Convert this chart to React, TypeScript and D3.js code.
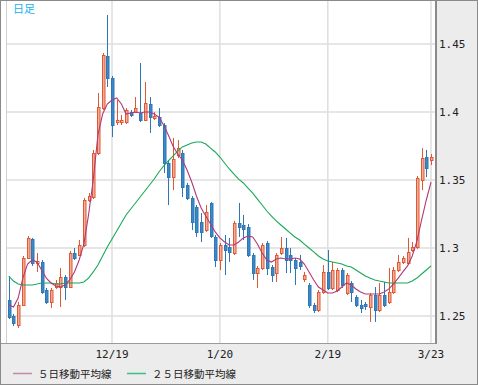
import React from 'react';
import * as d3 from 'd3';

// daily candles, oldest first
const open = [
  1.2618, 1.25, 1.2434, 1.2581, 1.2926, 1.3066, 1.289, 1.2897, 1.2691, 1.2603,
  1.2713, 1.2713, 1.2787, 1.2713, 1.2963, 1.2949, 1.3022, 1.3353, 1.3375, 1.3699,
  1.4029, 1.4412, 1.425, 1.3926, 1.3926, 1.3926, 1.4, 1.4, 1.3993, 1.3941,
  1.4059, 1.3956, 1.3963, 1.3904, 1.3625, 1.3522, 1.3684, 1.3699, 1.3463, 1.3368,
  1.3301, 1.3191, 1.3132, 1.3331, 1.3081, 1.2912, 1.3022, 1.3007, 1.2963, 1.3184,
  1.3169, 1.3154, 1.2949, 1.2816, 1.2853, 1.3037, 1.286, 1.2816, 1.2963, 1.3,
  1.2949, 1.2912, 1.2897, 1.2772, 1.2728, 1.2581, 1.2544, 1.2676, 1.2824, 1.2706,
  1.2691, 1.2838, 1.2669, 1.2743, 1.264, 1.2581, 1.2588, 1.2566, 1.2654, 1.2544,
  1.2654, 1.2603, 1.2676, 1.2838, 1.2897, 1.289, 1.2985, 1.3007, 1.35, 1.3669,
  1.3647,
];
const high = [
  1.2794, 1.2515, 1.2603, 1.2941, 1.3088, 1.3074, 1.2963, 1.2912, 1.2706, 1.2706,
  1.2765, 1.2853, 1.2801, 1.2978, 1.3, 1.3059, 1.3368, 1.3404, 1.3721, 1.414,
  1.4434, 1.4713, 1.4265, 1.4088, 1.3978, 1.4029, 1.4015, 1.411, 1.436, 1.4221,
  1.411, 1.4, 1.4029, 1.3919, 1.3647, 1.3809, 1.3794, 1.3721, 1.3478, 1.3382,
  1.3316, 1.3257, 1.3316, 1.3338, 1.3096, 1.3037, 1.3096, 1.3074, 1.3199, 1.3331,
  1.3243, 1.3176, 1.2963, 1.2868, 1.3037, 1.3051, 1.2875, 1.2963, 1.3081, 1.3074,
  1.3, 1.2926, 1.2949, 1.2824, 1.2743, 1.2596, 1.2691, 1.2875, 1.2985, 1.2897,
  1.2853, 1.2853, 1.2816, 1.2757, 1.2654, 1.2618, 1.2603, 1.2669, 1.2713, 1.2743,
  1.275, 1.2853, 1.286, 1.2949, 1.2941, 1.3074, 1.3044, 1.3529, 1.3735, 1.3721,
  1.3691,
];
const low = [
  1.2478, 1.2426, 1.2412, 1.2574, 1.2919, 1.2868, 1.2824, 1.2662, 1.2588, 1.2559,
  1.2699, 1.2566, 1.2618, 1.2706, 1.2912, 1.2941, 1.3007, 1.3338, 1.336, 1.3684,
  1.4015, 1.4184, 1.3816, 1.3904, 1.3904, 1.3912, 1.3963, 1.3993, 1.3926, 1.3934,
  1.3846, 1.3941, 1.389, 1.3551, 1.3316, 1.3426, 1.3662, 1.3375, 1.3353, 1.3132,
  1.3081, 1.3044, 1.3118, 1.3074, 1.286, 1.2838, 1.2801, 1.2897, 1.2949, 1.3081,
  1.3059, 1.2934, 1.2765, 1.2706, 1.2838, 1.2801, 1.275, 1.275, 1.2949, 1.2816,
  1.2816, 1.2728, 1.2838, 1.275, 1.2559, 1.2522, 1.2529, 1.2662, 1.2691, 1.2691,
  1.2676, 1.2706, 1.2654, 1.2603, 1.2566, 1.2522, 1.2544, 1.2456, 1.2456, 1.2529,
  1.2566, 1.2588, 1.2662, 1.2824, 1.2882, 1.2875, 1.2971, 1.2993, 1.3426, 1.3522,
  1.361,
];
const close = [
  1.2493, 1.2449, 1.2581, 1.2926, 1.3074, 1.289, 1.2904, 1.2676, 1.2603, 1.2691,
  1.2743, 1.2787, 1.2713, 1.2963, 1.2926, 1.3022, 1.3353, 1.3382, 1.3699, 1.4037,
  1.4419, 1.425, 1.3904, 1.3941, 1.3941, 1.4015, 1.3978, 1.4029, 1.3941, 1.4066,
  1.3963, 1.3971, 1.3904, 1.3625, 1.3522, 1.3654, 1.3735, 1.3449, 1.3368, 1.3191,
  1.3118, 1.3118, 1.3265, 1.3088, 1.2912, 1.3022, 1.2985, 1.2971, 1.3184, 1.3154,
  1.314, 1.2949, 1.2816, 1.2853, 1.3022, 1.2853, 1.2801, 1.2949, 1.3, 1.2912,
  1.2912, 1.2853, 1.2868, 1.2801, 1.2581, 1.2544, 1.2676, 1.2824, 1.2706, 1.2838,
  1.2838, 1.2728, 1.2801, 1.2676, 1.2581, 1.2559, 1.2574, 1.2654, 1.2544, 1.2654,
  1.2581, 1.2676, 1.2838, 1.2897, 1.2926, 1.2971, 1.3007, 1.3515, 1.3662, 1.3588,
  1.3669,
];

const ma5 = [
  1.2581, 1.2566, 1.2632, 1.2779, 1.2882, 1.2912, 1.2897, 1.2838, 1.2779, 1.2743,
  1.2721, 1.2713, 1.2728, 1.2765, 1.2824, 1.2912, 1.3029, 1.3243, 1.35, 1.3831,
  1.3985, 1.4059, 1.4088, 1.4103, 1.4059, 1.3985, 1.3993, 1.4, 1.3993, 1.4,
  1.4, 1.3985, 1.3963, 1.3904, 1.3831, 1.375, 1.3691, 1.3647, 1.3574, 1.3485,
  1.3382, 1.3294, 1.3235, 1.3176, 1.3118, 1.3074, 1.3044, 1.3022, 1.3022, 1.3044,
  1.3074, 1.3088, 1.3081, 1.3029, 1.2963, 1.2912, 1.2897, 1.2919, 1.2926, 1.2919,
  1.2919, 1.2926, 1.2919, 1.2882, 1.2824, 1.2765, 1.2713, 1.2691, 1.2669, 1.2669,
  1.2684, 1.2713, 1.2743, 1.2728, 1.2699, 1.2676, 1.2662, 1.2662, 1.2662, 1.2662,
  1.2676, 1.2699, 1.2735, 1.2779, 1.2824, 1.2868, 1.2941, 1.3051, 1.3206, 1.3353,
  1.3485,
];
const ma25 = [
  1.2794, 1.2757, 1.2735, 1.2728, 1.2728, 1.2728, 1.2735, 1.2743, 1.2743, 1.2743,
  1.2735, 1.2735, 1.2743, 1.2743, 1.2743, 1.2743, 1.275, 1.2779, 1.2824, 1.2875,
  1.2941, 1.3007, 1.3066, 1.3125, 1.3184, 1.3243, 1.3287, 1.3331, 1.3375, 1.3419,
  1.3463, 1.3507, 1.3559, 1.3603, 1.364, 1.3676, 1.3713, 1.3743, 1.3757, 1.3772,
  1.3779, 1.3779, 1.3765, 1.3735, 1.3706, 1.3669, 1.3625, 1.3581, 1.3544, 1.3507,
  1.3478, 1.3441, 1.3404, 1.336, 1.3316, 1.3272, 1.3235, 1.3199, 1.3169, 1.314,
  1.311, 1.3081, 1.3059, 1.3029, 1.3, 1.2971, 1.2941, 1.2919, 1.2904, 1.2897,
  1.289, 1.2882, 1.2868, 1.286, 1.2838, 1.2816, 1.2794, 1.2779, 1.2765, 1.2757,
  1.275, 1.2743, 1.2743, 1.2743, 1.2743, 1.2743, 1.2757, 1.2779, 1.2809, 1.2838,
  1.2868,
];

const yTicks = [1.25, 1.3, 1.35, 1.4, 1.45];
const xTickIdx = [22, 45, 68, 90];
const xTickLabels = ['12/19', '1/20', '2/19', '3/23'];
const legendNames = ['５日移動平均線', '２５日移動平均線'];

const W = 478;
const H = 385;
const plot = { left: 6, right: 436, top: 1, bottom: 343 };

const upFill = '#f3ad9c';
const upStroke = '#e0582f';
const downFill = '#3b88c8';
const downStroke = '#2f76b6';
const ma5Color = '#b03a78';
const ma25Color = '#17a858';

export default function App() {
  const x = d3.scaleLinear().domain([xTickIdx[0], xTickIdx[3]]).range([112, 431]);
  const y = d3.scaleLinear().domain([1.25, 1.45]).range([316, 44]);

  const line = d3
    .line<number>()
    .x((_, i) => x(i))
    .y((d) => y(d));

  const mono = '"DejaVu Sans Mono", monospace';
  const jp = '"Noto Sans CJK JP", sans-serif';

  return (
    <svg
      width={W}
      height={H}
      style={{ position: 'absolute', left: 0, top: 0, display: 'block' }}
    >
      <defs>
        <clipPath id="plotClip">
          <rect x={plot.left} y={plot.top} width={plot.right - plot.left} height={plot.bottom - plot.top} />
        </clipPath>
      </defs>

      {/* panels */}
      <rect x={0} y={0} width={W} height={H} fill="#ececec" />
      <rect x={1} y={1} width={plot.right - 1} height={plot.bottom - 1} fill="#fff" />

      {/* grid */}
      {yTicks.map((t) => (
        <line key={t} x1={plot.left} x2={plot.right} y1={y(t)} y2={y(t)} stroke="#dedede" strokeWidth={1.5} />
      ))}
      {xTickIdx.map((t) => (
        <line key={t} x1={x(t)} x2={x(t)} y1={plot.top} y2={plot.bottom} stroke="#dedede" strokeWidth={1.5} />
      ))}
      <line x1={plot.left + 0.5} x2={plot.left + 0.5} y1={plot.top} y2={plot.bottom} stroke="#d0d0d0" />

      <text x={13} y={13} fontFamily={jp} fontSize={11} fill="#14b2ee">
        日足
      </text>

      {/* candles */}
      <g clipPath="url(#plotClip)">
        {open.map((o, i) => {
          const c = close[i];
          const up = c >= o;
          const cx = Math.round(x(i));
          const top = Math.round(y(Math.max(o, c)));
          const bot = Math.round(y(Math.min(o, c)));
          return (
            <g key={i}>
              <line
                x1={cx + 0.5}
                x2={cx + 0.5}
                y1={y(high[i])}
                y2={y(low[i])}
                stroke={up ? upStroke : downStroke}
                strokeWidth={1}
              />
              <rect
                x={cx - 0.5}
                y={top + 0.5}
                width={2.5}
                height={Math.max(bot - top, 1)}
                fill={up ? upFill : downFill}
                stroke={up ? upStroke : downStroke}
                strokeWidth={1}
              />
            </g>
          );
        })}
        <path d={line(ma25) ?? ''} fill="none" stroke={ma25Color} strokeWidth={1.1} />
        <path d={line(ma5) ?? ''} fill="none" stroke={ma5Color} strokeWidth={1.1} />
      </g>

      {/* frame */}
      <line x1={0} x2={plot.right + 1} y1={plot.bottom + 0.5} y2={plot.bottom + 0.5} stroke="#9a9a9a" />
      <line x1={plot.right} x2={plot.right} y1={0} y2={plot.bottom + 1} stroke="#8a8a8a" strokeWidth={2} />
      <rect x={0.5} y={0.5} width={W - 1} height={H - 1} fill="none" stroke="#8a8a8a" />

      {/* y axis labels */}
      {yTicks.map((t) => (
        <text key={t} x={439} y={y(t) + 4} fontFamily={mono} fontSize={11} fill="#222">
          {String(t)}
        </text>
      ))}

      {/* x axis labels */}
      {xTickIdx.map((t, i) => (
        <text key={t} x={x(t)} y={358} textAnchor="middle" fontFamily={mono} fontSize={11} fill="#222">
          {xTickLabels[i]}
        </text>
      ))}

      {/* legend */}
      <line x1={13} x2={32} y1={373.5} y2={373.5} stroke="#c58aa6" strokeWidth={1.5} />
      <text x={38} y={377.5} fontFamily={jp} fontSize={10.5} fill="#222">
        {legendNames[0]}
      </text>
      <line x1={127} x2={146} y1={373.5} y2={373.5} stroke="#3cc083" strokeWidth={1.5} />
      <text x={152} y={377.5} fontFamily={jp} fontSize={10.5} fill="#222">
        {legendNames[1]}
      </text>
    </svg>
  );
}
